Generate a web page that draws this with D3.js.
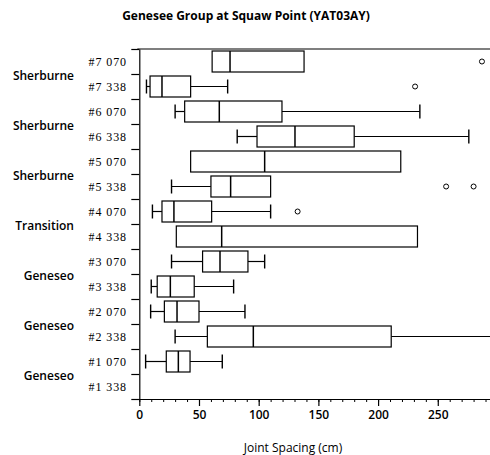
<!DOCTYPE html>
<html>
<head>
<meta charset="utf-8">
<script src="https://cdn.jsdelivr.net/npm/d3@7"></script>
<style>
  body { margin: 0; background: #fff; }
  svg { display: block; }
</style>
</head>
<body>
<div id="chart"></div>
<script>
// Row labels (top to bottom) and the formation each pair belongs to
const rowLabels = ["#7 070", "#7 338", "#6 070", "#6 338", "#5 070", "#5 338", "#4 070",
                   "#4 338", "#3 070", "#3 338", "#2 070", "#2 338", "#1 070", "#1 338"];
const groupLabels = ["Sherburne", "Sherburne", "Sherburne", "Transition", "Geneseo", "Geneseo", "Geneseo"];

// Box plot statistics (cm), null where nothing is drawn
const whiskerLow  = [null, 6, 30, 82, null, 27, 11, null, 27, 10, 9.5, 30, 5.3, null];
const q1          = [61, 9, 38, 98.6, 43, 60, 19, 31, 53, 15, 21, 57, 22.6, null];
const median      = [76, 19, 67, 130.4, 105, 76.5, 29, 69, 67.6, 26, 31.6, 95.5, 32.7, null];
const q3          = [138, 43, 119.5, 180, 219, 110, 60.6, 233, 91, 46, 50, 211, 42.5, null];
const whiskerHigh = [null, 74, 235, 276, null, null, 110, null, 105, 79, 88.5, 296, 69.5, null];
const outliers    = [[287], [231], [], [], [], [257, 280], [132.6], [], [], [], [], [], [], []];

const xTicks = [0, 50, 100, 150, 200, 250];

const width = 490, height = 455;
const plot = { left: 139.3, right: 491.5, top: 49, bottom: 399 };

const svg = d3.select("#chart").append("svg")
    .attr("width", width)
    .attr("height", height);

const x = d3.scaleLinear().domain([0, 295]).range([plot.left, plot.right]);
const y = d3.scaleBand().domain(rowLabels).range([plot.top, plot.bottom]).padding(0);
const yEdge = d3.scaleLinear().domain([0, rowLabels.length]).range([plot.top, plot.bottom]);

// Title
svg.append("text")
    .attr("x", 246)
    .attr("y", 20)
    .attr("text-anchor", "middle")
    .style("font-family", "'Open Sans', sans-serif")
    .style("font-weight", "bold")
    .style("font-size", "12px")
    .text("Genesee Group at Squaw Point (YAT03AY)");

// Top border
svg.append("line")
    .attr("x1", x(0) - 2).attr("x2", width)
    .attr("y1", plot.top).attr("y2", plot.top)
    .attr("stroke", "#000").attr("stroke-width", 1.2);

// Minor x ticks
svg.append("g")
    .attr("transform", `translate(0,${plot.bottom})`)
    .call(d3.axisBottom(x).tickValues(d3.range(0, 291, 10)).tickSize(3).tickFormat(""))
    .call(g => g.select(".domain").remove())
    .selectAll("line").attr("stroke-width", 1);

// Major x axis
const xAxis = svg.append("g")
    .attr("transform", `translate(0,${plot.bottom})`)
    .call(d3.axisBottom(x).tickValues(xTicks).tickSize(7).tickPadding(4).tickSizeOuter(0));
xAxis.select(".domain").attr("stroke-width", 1.2);
xAxis.selectAll("line").attr("stroke-width", 1.2);
xAxis.selectAll("text")
    .style("font-family", "'Open Sans', sans-serif")
    .style("font-weight", "600")
    .style("font-size", "12px");

// Y axis: ticks at row boundaries
const yAxis = svg.append("g")
    .attr("transform", `translate(${plot.left},0)`)
    .call(d3.axisLeft(yEdge).tickValues(d3.range(0, rowLabels.length + 1)).tickSize(8).tickFormat("").tickSizeOuter(0));
yAxis.select(".domain").attr("stroke-width", 1.2);
yAxis.selectAll("line").attr("stroke-width", 1.2);

// Row labels
svg.append("g")
    .selectAll("text")
    .data(rowLabels)
    .enter()
    .append("text")
    .attr("x", 127)
    .attr("y", d => y(d) + y.bandwidth() / 2 + 4)
    .attr("text-anchor", "end")
    .style("font-family", "'Liberation Serif', serif")
    .style("font-size", "12px")
    .style("letter-spacing", "0.9px")
    .text(d => d);

// Group labels
svg.append("g")
    .selectAll("text")
    .data(groupLabels)
    .enter()
    .append("text")
    .attr("x", 74)
    .attr("y", (d, i) => yEdge(2 * i + 1) + 6)
    .attr("text-anchor", "end")
    .style("font-family", "'Open Sans', sans-serif")
    .style("font-weight", "600")
    .style("font-size", "12px")
    .text(d => d);

// X axis title
svg.append("text")
    .attr("x", 293)
    .attr("y", 452)
    .attr("text-anchor", "middle")
    .style("font-family", "'Open Sans', sans-serif")
    .style("font-size", "12px")
    .text("Joint Spacing (cm)");

// Boxes
const rows = rowLabels.map((label, i) => ({
    label,
    lo: whiskerLow[i], q1: q1[i], med: median[i], q3: q3[i], hi: whiskerHigh[i],
    out: outliers[i]
})).filter(d => d.q1 !== null);

const boxH = 21, capH = 14;
const clip = svg.append("clipPath").attr("id", "plot-clip")
    .append("rect").attr("x", 0).attr("y", 0).attr("width", width).attr("height", height);

const box = svg.append("g")
    .attr("clip-path", "url(#plot-clip)")
    .selectAll("g")
    .data(rows)
    .enter()
    .append("g")
    .attr("transform", d => `translate(0,${y(d.label) + y.bandwidth() / 2})`);

// lower whisker
box.filter(d => d.lo !== null).append("line")
    .attr("x1", d => x(d.lo)).attr("x2", d => x(d.q1))
    .attr("stroke", "#000").attr("stroke-width", 1.2);
box.filter(d => d.lo !== null).append("line")
    .attr("x1", d => x(d.lo)).attr("x2", d => x(d.lo))
    .attr("y1", -capH / 2).attr("y2", capH / 2)
    .attr("stroke", "#000").attr("stroke-width", 1.4);

// upper whisker
box.filter(d => d.hi !== null).append("line")
    .attr("x1", d => x(d.q3)).attr("x2", d => x(d.hi))
    .attr("stroke", "#000").attr("stroke-width", 1.2);
box.filter(d => d.hi !== null).append("line")
    .attr("x1", d => x(d.hi)).attr("x2", d => x(d.hi))
    .attr("y1", -capH / 2).attr("y2", capH / 2)
    .attr("stroke", "#000").attr("stroke-width", 1.4);

// box
box.append("rect")
    .attr("x", d => x(d.q1))
    .attr("y", -boxH / 2)
    .attr("width", d => x(d.q3) - x(d.q1))
    .attr("height", boxH)
    .attr("fill", "#fff")
    .attr("stroke", "#000")
    .attr("stroke-width", 1.2);

// median
box.append("line")
    .attr("x1", d => x(d.med)).attr("x2", d => x(d.med))
    .attr("y1", -boxH / 2).attr("y2", boxH / 2)
    .attr("stroke", "#000").attr("stroke-width", 1.5);

// outliers
box.selectAll("circle")
    .data(d => d.out)
    .enter()
    .append("circle")
    .attr("cx", d => x(d))
    .attr("cy", 0)
    .attr("r", 2.5)
    .attr("fill", "#fff")
    .attr("stroke", "#000")
    .attr("stroke-width", 1);
</script>
</body>
</html>
